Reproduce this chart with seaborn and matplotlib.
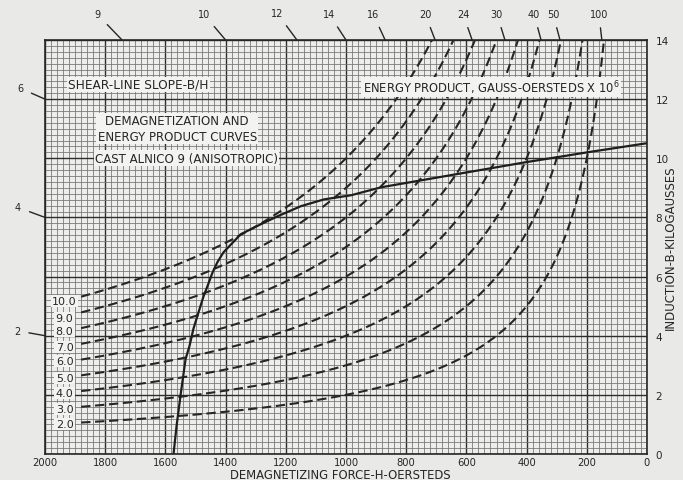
import matplotlib
matplotlib.use("Agg")
import matplotlib.pyplot as plt
import numpy as np
import pandas as pd
import seaborn as sns


# ---------------------------------------------------------
# Data
# ---------------------------------------------------------

# demagnetization curve, H in oersteds, B in kilogausses
demag_H = [0, 193, 407, 640, 883, 983, 1073, 1150, 1227, 1283, 1350, 1407,
           1427, 1443, 1460, 1473, 1490, 1507, 1520, 1533, 1550, 1563, 1573]
demag_B = [10.51, 10.21, 9.86, 9.45, 9.02, 8.75, 8.61, 8.38, 8.04, 7.77, 7.43, 6.82,
           6.49, 6.15, 5.68, 5.34, 4.79, 4.23, 3.65, 3.21, 1.96, 0.94, 0.0]

# energy product curves, gauss-oersteds x 10^6
energy_values = [10.0, 9.0, 8.0, 7.0, 6.0, 5.0, 4.0, 3.0, 2.0]
energy_labels = ["10.0", "9.0", "8.0", "7.0", "6.0", "5.0", "4.0", "3.0", "2.0"]
energy_label_B = [5.17, 4.59, 4.16, 3.62, 3.14, 2.57, 2.06, 1.52, 1.01]

# shear-line slope marks along the top and the left edge
top_slopes = ["9", "10", "12", "14", "16", "20", "24", "30", "40", "50", "100"]
top_slope_H = [1744, 1400, 1163, 1000, 870, 704, 581, 472, 352, 289, 150]
left_slopes = ["6", "4", "2"]
left_slope_B = [12.0, 8.0, 4.0]

x_ticks = [2000, 1800, 1600, 1400, 1200, 1000, 800, 600, 400, 200, 0]
y_ticks = [0, 2, 4, 6, 8, 10, 12, 14]


# ---------------------------------------------------------
# Figure
# ---------------------------------------------------------

sns.set_style("white")
plt.rcParams["font.family"] = ["DejaVu Sans"]

ink = "#262626"
paper = "#e9e9e7"

fig = plt.figure(figsize=(6.83, 4.81), dpi=100, facecolor=paper)
ax = fig.add_axes([45 / 683, 26 / 481, 602 / 683, 414 / 481])
ax.set_facecolor("#ededeb")


# ---------------------------------------------------------
# Energy product curves
# ---------------------------------------------------------

rows = []
for e in energy_values:
    h = np.linspace(1880, e * 1000 / 14.0, 200)
    rows.append(pd.DataFrame({"H": h, "B": e * 1000 / h, "E": e}))
energy = pd.concat(rows, ignore_index=True)

sns.lineplot(
    data=energy, x="H", y="B", units="E", estimator=None, sort=False,
    color=ink, linewidth=1.5, linestyle=(0, (4.5, 2.2)), ax=ax, legend=False
)

box = dict(facecolor="#f3f3f1", edgecolor="none", pad=1.0)

for lab, b in zip(energy_labels, energy_label_B):
    ax.text(1935, b, lab, fontsize=8, color=ink, ha="center", va="center", bbox=box)


# ---------------------------------------------------------
# Demagnetization curve
# ---------------------------------------------------------

demag = pd.DataFrame({"H": demag_H, "B": demag_B})
sns.lineplot(data=demag, x="H", y="B", estimator=None, sort=False,
             color="#1e1e1e", linewidth=1.6, ax=ax)


# ---------------------------------------------------------
# Axes and graph paper grid
# ---------------------------------------------------------

ax.set_xlim(2000, 0)
ax.set_ylim(0, 14)

ax.set_xticks(x_ticks)
ax.set_xticks(np.arange(0, 2001, 20), minor=True)
ax.set_yticks(y_ticks)
ax.set_yticks(np.arange(0, 14.01, 0.2), minor=True)
ax.grid(which="minor", color="#727272", linewidth=0.55)
ax.grid(which="major", color="#2e2e2e", linewidth=1.0)
ax.set_axisbelow(True)

for side in ax.spines.values():
    side.set_color(ink)
    side.set_linewidth(1.2)

ax.yaxis.tick_right()
ax.tick_params(which="both", length=0)
ax.tick_params(axis="x", labelsize=7.2, colors=ink, pad=2)
ax.tick_params(axis="y", labelsize=7.5, colors=ink, pad=6)
ax.set_xlabel("")
ax.set_ylabel("")

fig.text(340 / 683, 1 - 475.5 / 481, "DEMAGNETIZING FORCE-H-OERSTEDS",
         fontsize=8.4, color=ink, ha="center", va="center")
fig.text(670 / 683, 1 - 248 / 481, "INDUCTION-B-KILOGAUSSES",
         fontsize=8.5, color=ink, ha="center", va="center", rotation=90)


# ---------------------------------------------------------
# Titles and notes
# ---------------------------------------------------------

ax.text(1924, 12.5, "SHEAR-LINE SLOPE-B/H", fontsize=8.7, color=ink,
        ha="left", va="center", bbox=box)
ax.text(1561, 11.01, "DEMAGNETIZATION AND\nENERGY PRODUCT CURVES", fontsize=8.5,
        color=ink, ha="center", va="center", linespacing=1.3, bbox=box)
ax.text(1834, 10.0, "CAST ALNICO 9 (ANISOTROPIC)", fontsize=8.5, color=ink,
        ha="left", va="center", bbox=box)
ax.text(944, 12.4, "ENERGY PRODUCT, GAUSS-OERSTEDS X 10$^6$", fontsize=8.3,
        color=ink, ha="left", va="center", bbox=box)


# ---------------------------------------------------------
# Shear-line slope marks
# ---------------------------------------------------------

top_offsets = [(-25, 26), (-22, 26), (-20, 27), (-17, 26), (-12, 26), (-10, 26),
               (-9, 26), (-8, 26), (-7, 26), (-7, 26), (-3, 26)]
left_offsets = [(-25, 11), (-27, 10), (-28, 5)]

line = dict(arrowstyle="-", color=ink, linewidth=1.0, shrinkA=4, shrinkB=0)

for lab, h, off in zip(top_slopes, top_slope_H, top_offsets):
    ax.annotate(lab, xy=(h, 14), xytext=off, textcoords="offset pixels",
                fontsize=7, color=ink, ha="center", va="center",
                arrowprops=line, annotation_clip=False)

for lab, b, off in zip(left_slopes, left_slope_B, left_offsets):
    ax.annotate(lab, xy=(2000, b), xytext=off, textcoords="offset pixels",
                fontsize=7, color=ink, ha="center", va="center",
                arrowprops=line, annotation_clip=False)

fig.savefig("out.png", dpi=100, facecolor=fig.get_facecolor())
